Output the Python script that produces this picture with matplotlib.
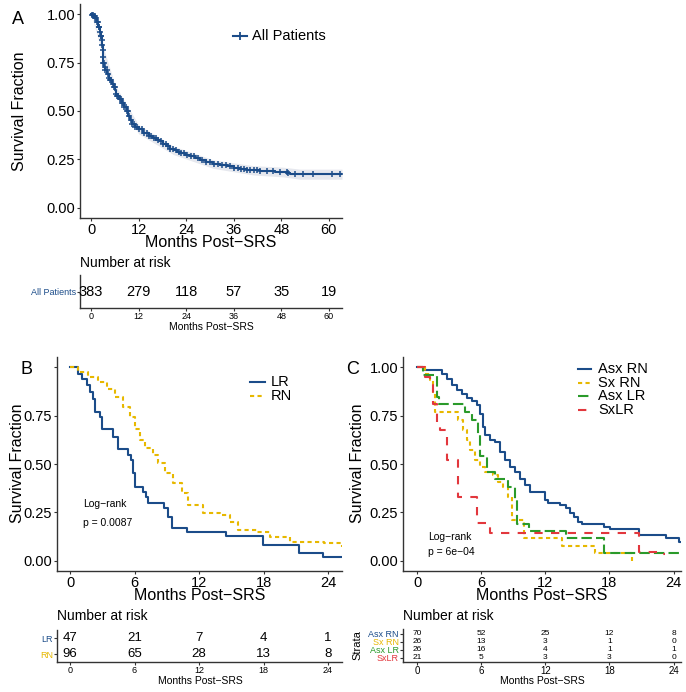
import matplotlib
matplotlib.use("Agg")
import matplotlib.pyplot as plt
from matplotlib.lines import Line2D

plt.rcParams['font.family'] = ['Liberation Sans', 'DejaVu Sans']

W, H = 686, 692

# colores
BLUE = '#1b4c89'
GOLD = '#e7b800'
GREEN = '#2a9a2a'
RED = '#e2373d'

# ---- panel A: todos los pacientes ----
a_t = [0, 0.3, 0.6, 1.0, 1.4, 1.85, 2.2, 2.5, 2.7, 2.8, 2.9, 3.0, 3.1, 3.3, 3.5, 4.0,
       4.5, 4.8, 5.3, 5.7, 6.05, 6.3, 6.5, 7.0, 7.7, 8.3, 9.0, 9.4, 9.8, 10.4, 11.1,
       12.0, 13.2, 14.5, 15.7, 16.5, 17.4, 18.2, 19.1, 20.0, 20.8, 21.6, 22.4, 23.6,
       25.0, 26.2, 27.5, 29.0, 30.8, 32.5, 34.2, 36.0, 37.6, 39.3, 40.9, 42.5, 44.3,
       46.5, 48.5, 49.5, 50.2, 51.5, 52.7, 63.3]
a_s = [1.0, 0.995, 0.99, 0.978, 0.96, 0.935, 0.91, 0.885, 0.865, 0.84, 0.815, 0.78,
       0.746, 0.725, 0.71, 0.69, 0.67, 0.66, 0.64, 0.625, 0.61, 0.59, 0.575, 0.56,
       0.54, 0.52, 0.50, 0.475, 0.455, 0.435, 0.42, 0.405, 0.386, 0.372, 0.36, 0.35,
       0.343, 0.33, 0.317, 0.306, 0.297, 0.29, 0.283, 0.275, 0.266, 0.256, 0.245,
       0.235, 0.226, 0.22, 0.214, 0.208, 0.202, 0.198, 0.194, 0.191, 0.189, 0.187,
       0.185, 0.18, 0.177, 0.175, 0.173, 0.173]
# banda de confianza (más gruesa al final)
a_band_t = [0, 2.9, 6.05, 12.0, 20.8, 30.8, 40.9, 48.5, 52.7, 63.3]
a_band_lo = [1.0, 0.79, 0.585, 0.382, 0.275, 0.204, 0.17, 0.16, 0.148, 0.148]
a_band_hi = [1.0, 0.84, 0.635, 0.428, 0.319, 0.248, 0.218, 0.21, 0.2, 0.2]
a_cens = [0.3, 0.5, 0.7, 0.9, 1.1, 1.3, 1.5, 1.7, 1.9, 2.1, 2.3, 2.5, 2.6, 2.7, 2.8,
          2.9, 3.0, 3.1, 3.2, 3.4, 3.6, 3.9, 4.2, 4.5, 4.8, 5.1, 5.4, 5.7, 6.0, 6.3,
          6.6, 6.9, 7.2, 7.5, 7.8, 8.1, 8.4, 8.7, 9.0, 9.3, 9.6, 10.0, 10.4, 10.8,
          11.2, 11.7, 12.2, 12.8, 13.4, 14.0, 14.6, 15.2, 15.8, 16.4, 17.0, 17.6,
          18.2, 18.8, 19.4, 20.0, 20.7, 21.4, 22.1, 22.8, 23.5, 24.3, 25.1, 26.0,
          27.0, 28.0, 29.0, 30.0, 31.0, 32.0, 33.0, 34.0, 35.0, 36.0, 37.0, 37.8,
          38.6, 39.4, 40.2, 41.0, 41.8, 42.6, 44.5, 45.9, 47.6, 49.4, 49.7, 51.4,
          53.5, 55.9, 60.8, 62.8]
a_risk_t = [0, 12, 24, 36, 48, 60]
a_risk = [383, 279, 118, 57, 35, 19]

# ---- panel B: LR vs RN ----
lr_t = [0, 0.71, 1.08, 1.55, 1.86, 2.17, 2.33, 2.79, 3.0, 4.03, 4.5, 5.37, 5.67, 5.89,
        6.05, 6.82, 7.04, 7.29, 8.77, 9.15, 9.52, 10.85, 14.48, 17.98, 21.3, 23.5, 25.3]
lr_s = [1.0, 0.966, 0.94, 0.905, 0.871, 0.837, 0.768, 0.743, 0.678, 0.64, 0.575, 0.549,
        0.523, 0.451, 0.382, 0.357, 0.328, 0.30, 0.271, 0.228, 0.168, 0.148, 0.127,
        0.082, 0.040, 0.019, 0.019]
rn_t = [0, 0.78, 1.7, 2.6, 3.4, 4.19, 4.96, 5.58, 6.05, 6.51, 6.98, 7.75, 8.2, 8.84,
        9.6, 10.39, 11.0, 12.4, 13.95, 14.9, 15.66, 17.37, 18.6, 20.5, 23.6, 25.3]
rn_s = [1.0, 0.974, 0.949, 0.923, 0.889, 0.846, 0.794, 0.743, 0.683, 0.623, 0.58, 0.546,
        0.503, 0.451, 0.40, 0.348, 0.288, 0.249, 0.237, 0.202, 0.16, 0.151, 0.125,
        0.099, 0.091, 0.070]
b_risk_t = [0, 6, 12, 18, 24]
b_risk_lr = [47, 21, 7, 4, 1]
b_risk_rn = [96, 65, 28, 13, 8]

# ---- panel C: estratos ----
asxrn_t = [0, 0.6, 2.3, 2.78, 3.25, 3.72, 4.19, 4.66, 5.13, 5.6, 5.9, 6.16, 6.37, 6.84,
           7.31, 7.78, 8.25, 8.72, 9.19, 9.65, 10.12, 10.59, 12.0, 12.3, 13.4, 13.9,
           14.3, 14.66, 15.03, 15.44, 17.47, 18.1, 20.75, 23.25, 24.5, 24.7]
asxrn_s = [1.0, 0.983, 0.962, 0.94, 0.906, 0.88, 0.863, 0.842, 0.825, 0.803, 0.76, 0.69,
           0.648, 0.623, 0.614, 0.563, 0.52, 0.485, 0.459, 0.425, 0.391, 0.357, 0.314,
           0.297, 0.288, 0.271, 0.245, 0.225, 0.202, 0.19, 0.177, 0.163, 0.134, 0.117,
           0.099, 0.099]
sxrn_t = [0, 0.75, 1.22, 1.53, 1.69, 3.87, 4.34, 4.66, 4.97, 5.44, 5.9, 6.37, 7.15, 7.62,
          8.09, 8.56, 8.9, 9.97, 13.57, 16.7, 20.1]
sxrn_s = [1.0, 0.966, 0.931, 0.871, 0.768, 0.726, 0.674, 0.623, 0.571, 0.52, 0.485, 0.459,
          0.443, 0.408, 0.382, 0.331, 0.21, 0.117, 0.077, 0.04, 0.0]
asxlr_t = [0, 0.6, 1.84, 2.1, 4.5, 5.13, 5.75, 5.9, 6.53, 7.31, 8.56, 9.19, 9.34, 10.44,
           13.9, 17.47, 24.7]
asxlr_s = [1.0, 0.96, 0.846, 0.808, 0.768, 0.726, 0.648, 0.54, 0.46, 0.423, 0.382, 0.314,
           0.192, 0.155, 0.117, 0.04, 0.04]
sxlr_t = [0, 0.75, 1.22, 1.53, 1.85, 2.15, 2.78, 3.87, 4.5, 5.6, 6.84, 20.8, 22.9, 23.2]
sxlr_s = [1.0, 0.949, 0.906, 0.81, 0.708, 0.674, 0.52, 0.331, 0.33, 0.194, 0.143, 0.048,
          0.035, 0.035]
c_risk_t = [0, 6, 12, 18, 24]
c_strata = ['Asx RN', 'Sx RN', 'Asx LR', 'SxLR']
c_risk = [[70, 52, 25, 12, 8],
          [26, 13, 3, 1, 0],
          [26, 16, 4, 1, 1],
          [21, 5, 3, 3, 0]]


def caja(left, top, right, bottom):
    # rectangulo en pixeles -> coordenadas de figura
    return [left / W, 1 - bottom / H, (right - left) / W, (bottom - top) / H]


def fp(x, y):
    return x / W, 1 - y / H


def estilo(ax):
    for lado in ['top', 'right']:
        ax.spines[lado].set_visible(False)
    for lado in ['left', 'bottom']:
        ax.spines[lado].set_linewidth(1.0)
        ax.spines[lado].set_color('#333333')
    ax.tick_params(length=2.5, width=0.8, color='#333333', labelsize=10.5, pad=1)


def linea_leyenda(x0, x1, y, col, dsh=None, **kw):
    ln = Line2D([x0 / W, x1 / W], [1 - y / H] * 2, transform=fig.transFigure, color=col, lw=1.5, **kw)
    if dsh:
        ln.set_dashes(dsh)
    fig.add_artist(ln)


fig = plt.figure(figsize=(W / 100, H / 100), dpi=100)

# ================= A =================
axA = fig.add_axes(caja(80, 4, 342, 218))
axA.fill_between(a_band_t, a_band_lo, a_band_hi, color='#e6e8ee', lw=0)
axA.step(a_t, a_s, where='post', color=BLUE, lw=1.5)
cy = [a_s[max(i for i, t in enumerate(a_t) if t <= c)] for c in a_cens]
axA.plot(a_cens, cy, ls='none', marker='+', ms=4, mew=1.1, color=BLUE)
axA.set_xlim(-2.8, 63.3)
axA.set_ylim(-0.052, 1.052)
axA.set_xticks([0, 12, 24, 36, 48, 60])
axA.set_yticks([0, 0.25, 0.5, 0.75, 1.0])
axA.set_yticklabels(['0.00', '0.25', '0.50', '0.75', '1.00'])
estilo(axA)
linea_leyenda(233, 247, 36, BLUE)
fig.add_artist(Line2D([240 / W], [1 - 36 / H], transform=fig.transFigure, color=BLUE,
                      marker='+', ms=6, mew=1.3))
fig.text(*fp(252, 36), 'All Patients', ha='left', va='center', fontsize=10.5)
fig.text(*fp(211, 243), 'Months Post\u2212SRS', ha='center', va='center', fontsize=11.5)
fig.text(*fp(20, 111), 'Survival Fraction', ha='center', va='center', rotation=90, fontsize=11.5)
fig.text(*fp(18, 19), 'A', ha='center', va='center', fontsize=13)

tA = fig.add_axes(caja(80, 275, 342, 308))
tA.set_xlim(-2.8, 63.3)
tA.set_ylim(0.5, 1.5)
for t, n in zip(a_risk_t, a_risk):
    tA.text(t, 1, str(n), ha='center', va='center', fontsize=10.5)
estilo(tA)
tA.set_xticks(a_risk_t)
tA.set_yticks([1])
tA.set_yticklabels(['All Patients'], color=BLUE)
tA.tick_params(labelsize=6.5, length=2)
fig.text(*fp(211, 327), 'Months Post\u2212SRS', ha='center', va='center', fontsize=7.5)
fig.text(*fp(80, 263), 'Number at risk', ha='left', va='center', fontsize=10)

# ================= B =================
axB = fig.add_axes(caja(57, 357, 342, 571))
axB.step(lr_t, lr_s, where='post', color=BLUE, lw=1.5)
axB.step(rn_t, rn_s, where='post', color=GOLD, lw=1.5, dashes=(2, 1.6))
axB.set_xlim(-1.21, 25.3)
axB.set_ylim(-0.052, 1.052)
axB.set_xticks([0, 6, 12, 18, 24])
axB.set_yticks([0, 0.25, 0.5, 0.75, 1.0])
axB.set_yticklabels(['0.00', '0.25', '0.50', '0.75', ''])
estilo(axB)
axB.text(1.25, 0.295, 'Log\u2212rank', fontsize=7.5, va='center')
axB.text(1.25, 0.195, 'p = 0.0087', fontsize=7.5, va='center')
linea_leyenda(250, 265, 382, BLUE)
linea_leyenda(250, 265, 396, GOLD, (2, 1.6))
fig.text(*fp(271, 382), 'LR', ha='left', va='center', fontsize=10.5)
fig.text(*fp(271, 396), 'RN', ha='left', va='center', fontsize=10.5)
fig.text(*fp(200, 596), 'Months Post\u2212SRS', ha='center', va='center', fontsize=11.5)
fig.text(*fp(18, 463), 'Survival Fraction', ha='center', va='center', rotation=90, fontsize=11.5)
fig.text(*fp(26, 370), 'B', ha='center', va='center', fontsize=13)

tB = fig.add_axes(caja(57, 630, 342, 662))
tB.set_xlim(-1.21, 25.3)
tB.set_ylim(0.5, 2.5)
for t, a, b in zip(b_risk_t, b_risk_lr, b_risk_rn):
    tB.text(t, 2, str(a), ha='center', va='center', fontsize=9.5)
    tB.text(t, 1, str(b), ha='center', va='center', fontsize=9.5)
estilo(tB)
tB.set_xticks(b_risk_t)
tB.set_yticks([2, 1])
tB.set_yticklabels(['LR', 'RN'])
tB.tick_params(labelsize=6.5, length=2)
for lbl, col in zip(tB.get_yticklabels(), [BLUE, GOLD]):
    lbl.set_color(col)
fig.text(*fp(200, 681), 'Months Post\u2212SRS', ha='center', va='center', fontsize=7.5)
fig.text(*fp(57, 616), 'Number at risk', ha='left', va='center', fontsize=10)

# ================= C =================
axC = fig.add_axes(caja(403, 357, 681, 571))
c_series = [(asxrn_t, asxrn_s, BLUE, None),
            (sxrn_t, sxrn_s, GOLD, (2, 1.6)),
            (asxlr_t, asxlr_s, GREEN, (5, 2)),
            (sxlr_t, sxlr_s, RED, (4, 4))]
for t, s, col, dsh in c_series:
    ln, = axC.step(t, s, where='post', color=col, lw=1.5)
    if dsh:
        ln.set_dashes(dsh)
axC.set_xlim(-1.31, 24.7)
axC.set_ylim(-0.052, 1.052)
axC.set_xticks([0, 6, 12, 18, 24])
axC.set_yticks([0, 0.25, 0.5, 0.75, 1.0])
axC.set_yticklabels(['0.00', '0.25', '0.50', '0.75', '1.00'])
estilo(axC)
axC.text(1.0, 0.125, 'Log\u2212rank', fontsize=7.5, va='center')
axC.text(1.0, 0.045, 'p = 6e\u221204', fontsize=7.5, va='center')
for y, (t, s, col, dsh), lab in zip([369, 383, 396, 410], c_series, c_strata):
    linea_leyenda(578, 591, y, col, dsh)
    fig.text(*fp(598, y), lab, ha='left', va='center', fontsize=10.5)
fig.text(*fp(542, 596), 'Months Post\u2212SRS', ha='center', va='center', fontsize=11.5)
fig.text(*fp(358, 463), 'Survival Fraction', ha='center', va='center', rotation=90, fontsize=11.5)
fig.text(*fp(353, 370), 'C', ha='center', va='center', fontsize=13)

tC = fig.add_axes(caja(403, 629, 681, 662))
tC.set_xlim(-1.31, 24.7)
tC.set_ylim(0.45, 4.6)
filas = [4, 3, 2, 1]
for fila, cuentas in zip(filas, c_risk):
    for t, n in zip(c_risk_t, cuentas):
        tC.text(t, fila, str(n), ha='center', va='center', fontsize=6)
estilo(tC)
tC.set_xticks(c_risk_t)
tC.set_yticks(filas)
tC.set_yticklabels(c_strata)
tC.tick_params(labelsize=6.5, length=2, pad=1)
tC.tick_params(axis='x', labelsize=7)
for lbl, col in zip(tC.get_yticklabels(), [BLUE, GOLD, GREEN, RED]):
    lbl.set_color(col)
fig.text(*fp(357, 645), 'Strata', ha='center', va='center', rotation=90, fontsize=8)
fig.text(*fp(542, 681), 'Months Post\u2212SRS', ha='center', va='center', fontsize=7.5)
fig.text(*fp(403, 616), 'Number at risk', ha='left', va='center', fontsize=10)

fig.savefig('out.png', dpi=100)
